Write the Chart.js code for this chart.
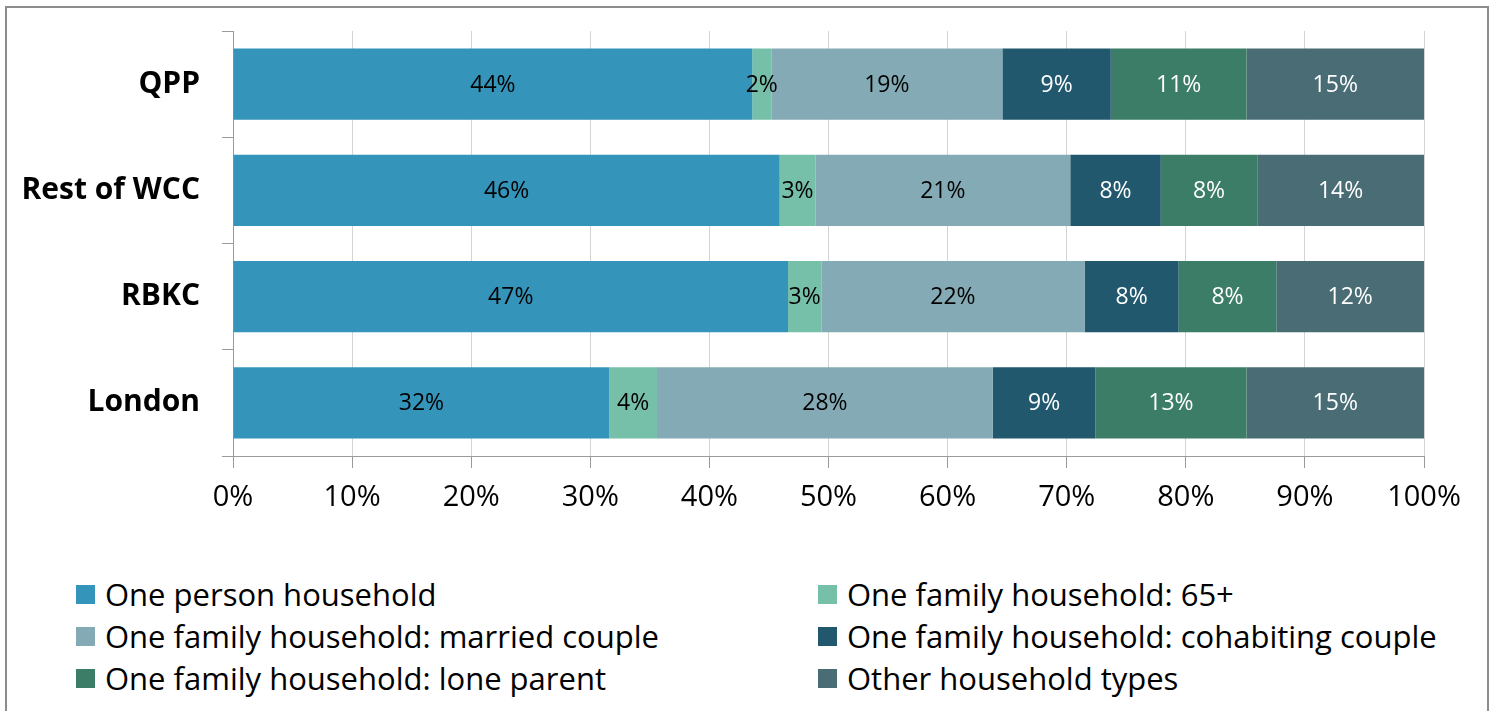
<!DOCTYPE html>
<html>
<head>
<meta charset="utf-8">
<script src="https://cdn.jsdelivr.net/npm/chart.js@4.4.1/dist/chart.umd.min.js"></script>
<style>
  body { margin: 0; background: #fff; font-family: 'Open Sans', sans-serif; }
  #wrap { position: relative; width: 1490px; height: 711px; overflow: hidden; }
  #frame { position: absolute; left: 5px; top: 6px; width: 1480px; height: 720px; border: 2px solid #8c8c8c; }
  #chartBox { position: absolute; left: 0; top: 0; width: 1490px; height: 530px; }
  #legend { position: absolute; left: 0; top: 570px; width: 1490px; }
  .item { position: absolute; height: 40px; display: flex; align-items: center; font-size: 31px; color: #000; white-space: nowrap; }
  .item span.box { width: 19px; height: 19px; margin-right: 10px; display: inline-block; }
</style>
</head>
<body>
<div id="wrap">
  <div id="frame"></div>
  <div id="chartBox"><canvas id="householdChart" width="1490" height="530"></canvas></div>
  <div id="legend"></div>
</div>
<script>
const areas = ['QPP', 'Rest of WCC', 'RBKC', 'London'];
const seriesNames = [
  'One person household',
  'One family household: 65+',
  'One family household: married couple',
  'One family household: cohabiting couple',
  'One family household: lone parent',
  'Other household types'
];
const onePerson  = [43.6, 45.9, 46.6, 31.6];
const over65     = [1.6, 3.0, 2.8, 4.0];
const married    = [19.4, 21.4, 22.1, 28.2];
const cohabiting = [9.1, 7.6, 7.9, 8.6];
const loneParent = [11.4, 8.1, 8.2, 12.7];
const otherTypes = [14.9, 14.0, 12.4, 14.9];
const xTicks = ['0%', '10%', '20%', '30%', '40%', '50%', '60%', '70%', '80%', '90%', '100%'];

const colours = ['#3594ba', '#76bfa8', '#84abb5', '#21586e', '#3b7d67', '#496c75'];
const labelColours = ['#000', '#000', '#000', '#fff', '#fff', '#fff'];
const values = [onePerson, over65, married, cohabiting, loneParent, otherTypes];

// draws the rounded % inside each segment
const barLabels = {
  id: 'barLabels',
  afterDatasetsDraw(chart) {
    const ctx = chart.ctx;
    ctx.save();
    ctx.font = '23px "Open Sans"';
    ctx.textAlign = 'center';
    ctx.textBaseline = 'middle';
    chart.data.datasets.forEach((ds, i) => {
      chart.getDatasetMeta(i).data.forEach((bar, j) => {
        const p = bar.getProps(['x', 'base', 'y'], true);
        ctx.fillStyle = labelColours[i];
        ctx.fillText(Math.round(ds.data[j]) + '%', (p.x + p.base) / 2, p.y + 1);
      });
    });
    ctx.restore();
  }
};

const ctx = document.getElementById('householdChart').getContext('2d');
const chart = new Chart(ctx, {
  type: 'bar',
  data: {
    labels: areas,
    datasets: seriesNames.map((name, i) => ({
      label: name,
      data: values[i],
      backgroundColor: colours[i],
      borderWidth: 0,
      categoryPercentage: 1,
      barPercentage: 0.67
    }))
  },
  options: {
    indexAxis: 'y',
    responsive: false,
    animation: false,
    layout: { padding: { top: 31, right: 66, left: 0, bottom: 0 } },
    plugins: {
      legend: { display: false },
      tooltip: { enabled: false }
    },
    scales: {
      x: {
        stacked: true,
        min: 0,
        max: 100,
        afterFit: (scale) => { scale.height = 74; },
        afterBuildTicks: (scale) => {
          scale.ticks = xTicks.map((t, i) => ({ value: i * 10 }));
        },
        ticks: {
          callback: (v, i) => xTicks[i],
          font: { family: 'Open Sans', size: 29 },
          color: '#000',
          padding: 12,
          maxRotation: 0
        },
        grid: { color: '#d4d4d4', tickColor: '#9a9a9a', tickLength: 12 },
        border: { color: '#9a9a9a' }
      },
      y: {
        stacked: true,
        afterFit: (scale) => {
          scale.width = 233;
          scale.paddingTop = 0;
          scale.paddingBottom = 0;
        },
        ticks: {
          font: { family: 'Open Sans', size: 30, weight: 'bold' },
          color: '#000',
          padding: 22
        },
        grid: { drawOnChartArea: false, tickColor: '#9a9a9a', tickLength: 11, offset: true },
        border: { color: '#9a9a9a' }
      }
    }
  },
  plugins: [barLabels]
});

// two-column legend built from the chart's datasets
const legendEl = document.getElementById('legend');
const colX = [76, 818];
chart.data.datasets.forEach((ds, i) => {
  const item = document.createElement('div');
  item.className = 'item';
  item.style.left = colX[i % 2] + 'px';
  item.style.top = (Math.floor(i / 2) * 42 + 4) + 'px';
  item.innerHTML = '<span class="box" style="background:' + ds.backgroundColor + '"></span>' + ds.label;
  legendEl.appendChild(item);
});
</script>
</body>
</html>
